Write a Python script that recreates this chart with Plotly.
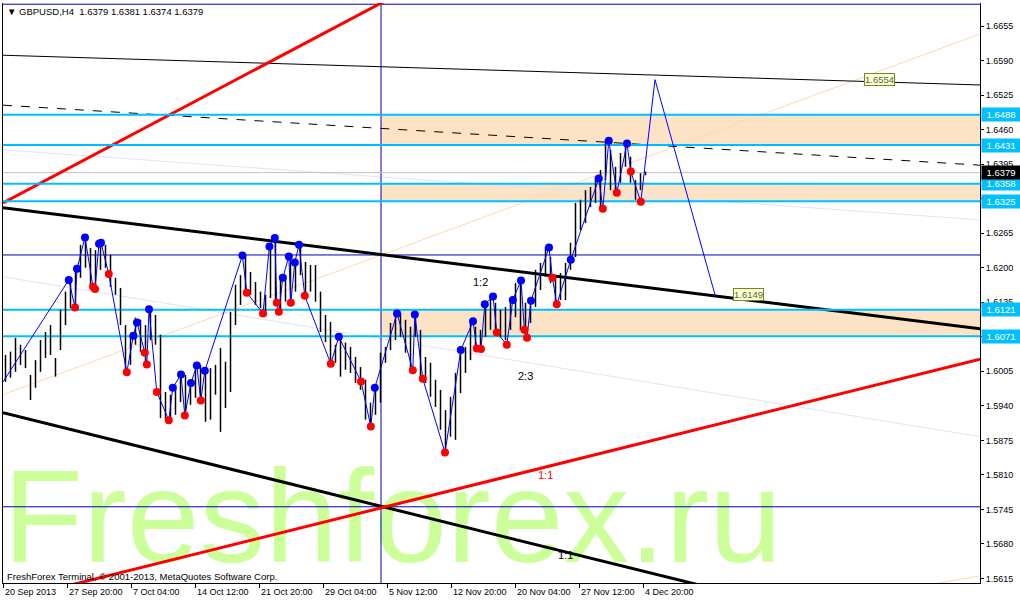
import numpy as np
import plotly.graph_objects as go

# ---------------- data ----------------
symbol_title = "\u25bc GBPUSD,H4  1.6379 1.6381 1.6374 1.6379"

bar_high = [1.6036,1.6042,1.6068,1.6055,1.6045,1.5998,1.6026,1.6064,1.6079,1.6092,
            1.6030,1.6121,1.6155,1.6177,1.6200,1.6243,1.6258,1.6237,1.6233,1.6249,
            1.6243,1.6224,1.6181,1.6162,1.6092,1.6074,1.6106,1.6102,1.6092,1.6124,
            1.6111,1.6074,1.5966,1.5961,1.5979,1.6002,1.5998,1.5985,1.6017,1.6017,
            1.6004,1.6011,1.6017,1.6049,1.6023,1.6117,1.6168,1.6186,1.6224,1.6192,
            1.6173,1.6155,1.6149,1.6243,1.6256,1.6186,1.6186,1.6220,1.6211,1.6243,
            1.6211,1.6205,1.6205,1.6155,1.6111,1.6098,1.6055,1.6077,1.6059,1.6051,
            1.6032,1.6013,1.5989,1.5946,1.5976,1.6040,1.6051,1.6096,1.6115,1.6115,
            1.6102,1.6089,1.6115,1.6083,1.6032,1.6021,1.5989,1.5970,1.5932,1.5957,
            1.6002,1.6045,1.6051,1.6096,1.6089,1.6083,1.6134,1.6145,1.6134,1.6121,
            1.6126,1.6139,1.6171,1.6177,1.6134,1.6145,1.6196,1.6209,1.6239,1.6220,
            1.6183,1.6190,1.6209,1.6247,1.6322,1.6328,1.6346,1.6352,1.6371,1.6384,
            1.6441,1.6422,1.6390,1.6416,1.6435,1.6409,1.6365,1.6378,1.6381]
bar_low = [1.5985,1.5993,1.6004,1.6017,1.6011,1.5951,1.5974,1.6004,1.6030,1.6036,
           1.5995,1.6045,1.6092,1.6124,1.6124,1.6181,1.6200,1.6168,1.6158,1.6196,
           1.6200,1.6164,1.6149,1.6092,1.6004,1.6017,1.6055,1.6042,1.6017,1.6064,
           1.6055,1.5917,1.5914,1.5910,1.5923,1.5947,1.5917,1.5942,1.5955,1.5947,
           1.5910,1.5914,1.5961,1.5891,1.5936,1.5966,1.6092,1.6130,1.6155,1.6149,
           1.6130,1.6124,1.6111,1.6143,1.6130,1.6117,1.6136,1.6136,1.6155,1.6186,
           1.6149,1.6155,1.6136,1.6079,1.6060,1.6023,1.6021,1.5995,1.6008,1.6002,
           1.5983,1.5970,1.5914,1.5900,1.5923,1.5946,1.6021,1.6045,1.6064,1.6070,
           1.6040,1.6008,1.6070,1.5989,1.5983,1.5957,1.5938,1.5895,1.5853,1.5882,
           1.5876,1.5964,1.6002,1.6026,1.6045,1.6045,1.6070,1.6083,1.6077,1.6070,
           1.6064,1.6083,1.6107,1.6083,1.6070,1.6096,1.6126,1.6158,1.6183,1.6171,
           1.6134,1.6139,1.6139,1.6196,1.6220,1.6271,1.6284,1.6314,1.6322,1.6309,
           1.6365,1.6346,1.6341,1.6360,1.6390,1.6360,1.6328,1.6346,1.6374]
first_bar_pos = 1.25   # bar-slot position of the first drawn bar
bar_pos_step = 2.5     # bar slots between drawn bars

# zigzag swing points (x in H4 bar slots, y in price)
zz_high_idx = [32.9,37,41,48,49,65.2,67,73,84.9,89,94,96.9,100.9,119.7,133.2,135.9,139.9,
               142.9,145.9,148,167.9,185.9,197,205.9,228.9,235,240.9,245,254.9,259,264,
               273,283.9,297.9,302.9,312]
zz_high_px = [1.6177,1.6198,1.6257,1.6245,1.6247,1.6072,1.6097,1.6122,1.5974,1.5999,1.5983,
              1.6016,1.6006,1.6223,1.6240,1.6256,1.6181,1.6221,1.6210,1.6243,1.6070,1.5974,
              1.6114,1.6112,1.6045,1.6099,1.6131,1.6146,1.6139,1.6176,1.6138,1.6238,1.6215,
              1.6368,1.6439,1.6434]
zz_low_idx = [36,45,46,52.9,61.9,70.9,71.9,76.9,82.9,90.9,98.9,121.9,130,136.9,137.9,143.9,
              150.9,163.9,179,183.9,204.9,209.9,221,236.9,239,246.9,251.9,260.7,262,274.7,
              276.9,299.9,306.9,313.9,318.9]
zz_low_px = [1.6125,1.6164,1.6160,1.6188,1.6003,1.6040,1.6018,1.5966,1.5913,1.5922,1.5950,
             1.6153,1.6114,1.6134,1.6117,1.6134,1.6147,1.6019,1.5986,1.5901,1.6007,1.5991,
             1.5852,1.6048,1.6047,1.6078,1.6055,1.6083,1.6068,1.6181,1.6131,1.6311,1.6341,
             1.6381,1.6324]
zz_start = (0, 1.5985)
forecast_idx = [326, 356]
forecast_px = [1.6554, 1.6149]

# horizontal levels and zones
levels = [1.6488, 1.6431, 1.6358, 1.6325, 1.6121, 1.6071]
zones = [(1.6431, 1.6488), (1.6325, 1.6358), (1.6071, 1.6121)]
zone_start_idx = 189
bid_price = 1.6379
navy_levels = [1.6696, 1.6224, 1.5750]
navy_vline_idx = 189

# trend lines (x0, y0, x1, y1)
trend_black_thin = (0, 1.6600, 488.5, 1.6544)
trend_black_dash = (0, 1.6506, 488.5, 1.6393)
trend_black_upper = (0, 1.6313, 488.5, 1.6085)
trend_black_lower = (0, 1.5927, 488.5, 1.5472)
trend_red_lower = (0, 1.5571, 488.5, 1.6028)
trend_red_upper = (0, 1.6322, 200, 1.6720)
trend_lav_1 = (0, 1.6183, 488.5, 1.5882)
trend_lav_2 = (0, 1.6422, 488.5, 1.6290)
trend_peach_1 = (0, 1.5961, 488.5, 1.6640)
trend_peach_2 = (451, 1.5595, 488.5, 1.5620)

price_ticks = [1.5615,1.5680,1.5745,1.5810,1.5875,1.5940,1.6005,1.6070,1.6135,1.6200,
               1.6265,1.6330,1.6395,1.6460,1.6525,1.6590,1.6655]
date_labels = ["20 Sep 2013","27 Sep 20:00","7 Oct 04:00","14 Oct 12:00","21 Oct 20:00",
               "29 Oct 04:00","5 Nov 12:00","12 Nov 20:00","20 Nov 04:00","27 Nov 12:00",
               "4 Dec 20:00"]
date_idx = [0,32,64,96,128,160,192,224,256,288,320]

ratio_labels = [("1:2", 238.5, 1.6173, "black"), ("2:3", 261, 1.5996, "black"),
                ("1:1", 271, 1.5810, "red"), ("1:1", 281, 1.5660, "black")]
target_labels = [("1.6554", 438, 1.6554), ("1.6149", 372.5, 1.6149)]

# ---------------- figure ----------------
W, H = 1020, 601
ML, MR, MT, MB = 3, 40, 3, 18
X_RANGE = [0, 488.5]
Y_RANGE = [1.56065, 1.66983]
FONT = "Liberation Sans"

def paper_x(px):
    return (px - ML) / (W - ML - MR)

def paper_y(py):
    return (H - MB - py) / (H - MT - MB)

fig = go.Figure()

# watermark (drawn first, below everything)
fig.add_trace(go.Scatter(x=[0], y=[1.5708], mode="text", text=["Freshforex.ru"],
                         textposition="middle right", hoverinfo="skip", showlegend=False,
                         textfont=dict(family=FONT, size=131, color="#ccff99")))

def add_line(seg, color, width, dash="solid"):
    x0, y0, x1, y1 = seg
    fig.add_trace(go.Scatter(x=[x0, x1], y=[y0, y1], mode="lines",
                             line=dict(color=color, width=width, dash=dash),
                             hoverinfo="skip", showlegend=False))

add_line(trend_lav_1, "#e2e2f8", 1)
add_line(trend_lav_2, "#e2e2f8", 1)
add_line(trend_peach_1, "#fcd9b6", 1)
add_line(trend_peach_2, "#fcd9b6", 1)
add_line(trend_black_thin, "black", 1)
add_line(trend_black_dash, "black", 1, "dash")
for lv in navy_levels:
    add_line((X_RANGE[0], lv, X_RANGE[1], lv), "#0000b4", 1)
add_line((navy_vline_idx, Y_RANGE[0], navy_vline_idx, Y_RANGE[1]), "#0000b4", 1)
add_line((X_RANGE[0], bid_price, X_RANGE[1], bid_price), "#c0c0c0", 1)
add_line(trend_black_upper, "black", 3)
add_line(trend_black_lower, "black", 3)
add_line(trend_red_lower, "#ff0000", 3)
add_line(trend_red_upper, "#ff0000", 3)
for lv in levels:
    add_line((X_RANGE[0], lv, X_RANGE[1], lv), "#00bfff", 2)

# price bars
bx, by = [], []
for k, (h, l) in enumerate(zip(bar_high, bar_low)):
    pos = first_bar_pos + k * bar_pos_step
    bx += [pos, pos, None]
    by += [l, h, None]
fig.add_trace(go.Scatter(x=bx, y=by, mode="lines", line=dict(color="black", width=1.5),
                         hoverinfo="skip", showlegend=False))

# zigzag line
pts = sorted([zz_start] + list(zip(zz_high_idx, zz_high_px)) + list(zip(zz_low_idx, zz_low_px)))
pts += list(zip(forecast_idx, forecast_px))
fig.add_trace(go.Scatter(x=[p[0] for p in pts], y=[p[1] for p in pts], mode="lines",
                         line=dict(color="#0000ff", width=1), hoverinfo="skip", showlegend=False))
fig.add_trace(go.Scatter(x=zz_high_idx, y=zz_high_px, mode="markers",
                         marker=dict(color="#0000ff", size=8), hoverinfo="skip", showlegend=False))
fig.add_trace(go.Scatter(x=zz_low_idx, y=zz_low_px, mode="markers",
                         marker=dict(color="#ff0000", size=8), hoverinfo="skip", showlegend=False))

# zones
shapes = []
for lo, hi in zones:
    shapes.append(dict(type="rect", xref="x", yref="y", x0=zone_start_idx, x1=X_RANGE[1],
                       y0=lo, y1=hi, fillcolor="#fde3c6", line=dict(width=0), layer="below"))

ann = []
# title
ann.append(dict(xref="paper", yref="paper", x=paper_x(5), y=paper_y(11), text=symbol_title,
                showarrow=False, xanchor="left", yanchor="middle",
                font=dict(family=FONT, size=9.5, color="black")))
# copyright
ann.append(dict(xref="paper", yref="paper", x=paper_x(5), y=paper_y(576),
                text="FreshForex Terminal, \u00a9 2001-2013, MetaQuotes Software Corp.",
                showarrow=False, xanchor="left", yanchor="middle",
                font=dict(family=FONT, size=9.5, color="black")))
# date labels
for lab, xi in zip(date_labels, date_idx):
    ann.append(dict(xref="x", yref="paper", x=xi, y=0, yshift=-2, text=lab, showarrow=False,
                    xanchor="left", yanchor="top", font=dict(family=FONT, size=9, color="black")))
# level labels on price axis
for lv in levels:
    ann.append(dict(xref="paper", yref="y", x=1, xshift=1, y=lv, text=f"{lv:.4f}",
                    showarrow=False, xanchor="left", yanchor="middle", width=36, height=11,
                    bgcolor="#00bfff", font=dict(family=FONT, size=9.5, color="white")))
ann.append(dict(xref="paper", yref="y", x=1, xshift=1, y=bid_price, text=f"{bid_price:.4f}",
                showarrow=False, xanchor="left", yanchor="middle", width=36, height=11,
                bgcolor="black", font=dict(family=FONT, size=9.5, color="white")))
# ratio labels
for t, xi, yv, c in ratio_labels:
    ann.append(dict(xref="x", yref="y", x=xi, y=yv, text=t, showarrow=False,
                    font=dict(family=FONT, size=11, color=c)))
# target labels
for t, xi, yv in target_labels:
    ann.append(dict(xref="x", yref="y", x=xi, y=yv, text=t, showarrow=False,
                    bgcolor="#ffffd8", bordercolor="#6b8e23", borderwidth=1, borderpad=0,
                    font=dict(family=FONT, size=9.5, color="#556b2f")))

fig.update_layout(
    width=W, height=H, margin=dict(l=ML, r=MR, t=MT, b=MB, autoexpand=False),
    paper_bgcolor="white", plot_bgcolor="white", showlegend=False,
    shapes=shapes, annotations=ann,
    xaxis=dict(range=X_RANGE, showgrid=False, zeroline=False, showline=True, linecolor="black",
               linewidth=1, mirror=False, ticks="outside", ticklen=4, tickcolor="black",
               tickvals=date_idx, showticklabels=False, fixedrange=True, automargin=False),
    yaxis=dict(range=Y_RANGE, side="right", showgrid=False, zeroline=False, showline=True,
               linecolor="black", linewidth=1, mirror=True, ticks="outside", ticklen=3,
               tickcolor="black", tickvals=price_ticks,
               ticktext=[f"{v:.4f}" for v in price_ticks], automargin=False,
               tickfont=dict(family=FONT, size=9, color="black"), fixedrange=True),
)

fig.write_html("out.html", post_script="document.body.style.margin='0';",
               config={"displayModeBar": False})
